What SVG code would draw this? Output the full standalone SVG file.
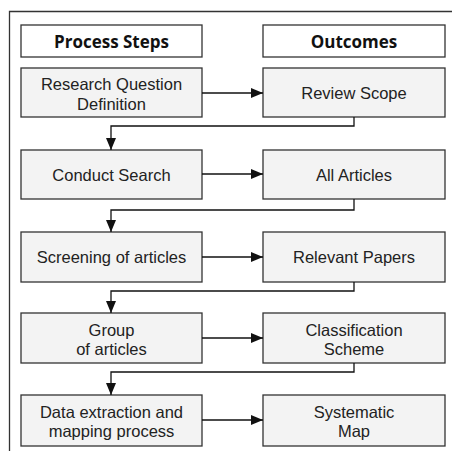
<svg xmlns="http://www.w3.org/2000/svg" width="452" height="451" viewBox="0 0 452 451">
<style>
.box{fill:#f3f3f3;stroke:#333;stroke-width:1.3}
.hdr{fill:#fff;stroke:#333;stroke-width:1.3}
.t{font-family:"Liberation Sans",Arial,sans-serif;font-size:16.5px;fill:#222;text-anchor:middle}
.h{font-family:"Open Sans","Liberation Sans",sans-serif;font-weight:bold;font-size:17px;fill:#111;text-anchor:middle}
.c{fill:none;stroke:#111;stroke-width:1.3}
</style>
<defs>
<marker id="ah" markerWidth="12" markerHeight="10" refX="12" refY="5" orient="auto" markerUnits="userSpaceOnUse">
<path d="M0,0 L12,5 L0,10 Z" fill="#111"/>
</marker>
</defs>
<rect width="452" height="451" fill="#fff"/>
<path d="M9.5,451 V11.5 H452" fill="none" stroke="#333" stroke-width="1.3"/>
<g id="hdr-process"><rect class="hdr" x="21" y="25" width="181" height="32"/><text class="h" x="111.5" y="48">Process Steps</text></g>
<g id="hdr-outcomes"><rect class="hdr" x="263" y="25" width="182" height="32"/><text class="h" x="354" y="48">Outcomes</text></g>
<g id="n1"><rect class="box" x="21" y="68" width="181" height="49"/><text class="t" x="111.5" y="90">Research Question</text><text class="t" x="111.5" y="109.5">Definition</text></g>
<g id="o1"><rect class="box" x="263" y="68" width="182" height="49"/><text class="t" x="354" y="99">Review Scope</text></g>
<g id="n2"><rect class="box" x="21" y="150" width="181" height="49"/><text class="t" x="111.5" y="180.5">Conduct Search</text></g>
<g id="o2"><rect class="box" x="263" y="150" width="182" height="49"/><text class="t" x="354" y="180.5">All Articles</text></g>
<g id="n3"><rect class="box" x="21" y="232" width="181" height="50"/><text class="t" x="111.5" y="263">Screening of articles</text></g>
<g id="o3"><rect class="box" x="263" y="232" width="182" height="50"/><text class="t" x="354" y="263">Relevant Papers</text></g>
<g id="n4"><rect class="box" x="21" y="313" width="181" height="50"/><text class="t" x="111.5" y="336">Group</text><text class="t" x="111.5" y="355">of articles</text></g>
<g id="o4"><rect class="box" x="263" y="313" width="182" height="50"/><text class="t" x="354" y="336">Classification</text><text class="t" x="354" y="355">Scheme</text></g>
<g id="n5"><rect class="box" x="21" y="395" width="181" height="51"/><text class="t" x="111.5" y="417.5">Data extraction and</text><text class="t" x="111.5" y="437">mapping process</text></g>
<g id="o5"><rect class="box" x="263" y="395" width="182" height="51"/><text class="t" x="354" y="417.5">Systematic</text><text class="t" x="354" y="437">Map</text></g>
<g id="connectors">
<path class="c" d="M202,93 H263" marker-end="url(#ah)"/>
<path class="c" d="M202,174 H263" marker-end="url(#ah)"/>
<path class="c" d="M202,257 H263" marker-end="url(#ah)"/>
<path class="c" d="M202,338 H263" marker-end="url(#ah)"/>
<path class="c" d="M202,420 H263" marker-end="url(#ah)"/>
<path class="c" d="M354,117 V126 H111 V150" marker-end="url(#ah)"/>
<path class="c" d="M354,199 V210 H111 V232" marker-end="url(#ah)"/>
<path class="c" d="M354,282 V291 H111 V313" marker-end="url(#ah)"/>
<path class="c" d="M354,363 V372 H111 V395" marker-end="url(#ah)"/>
</g>
</svg>
